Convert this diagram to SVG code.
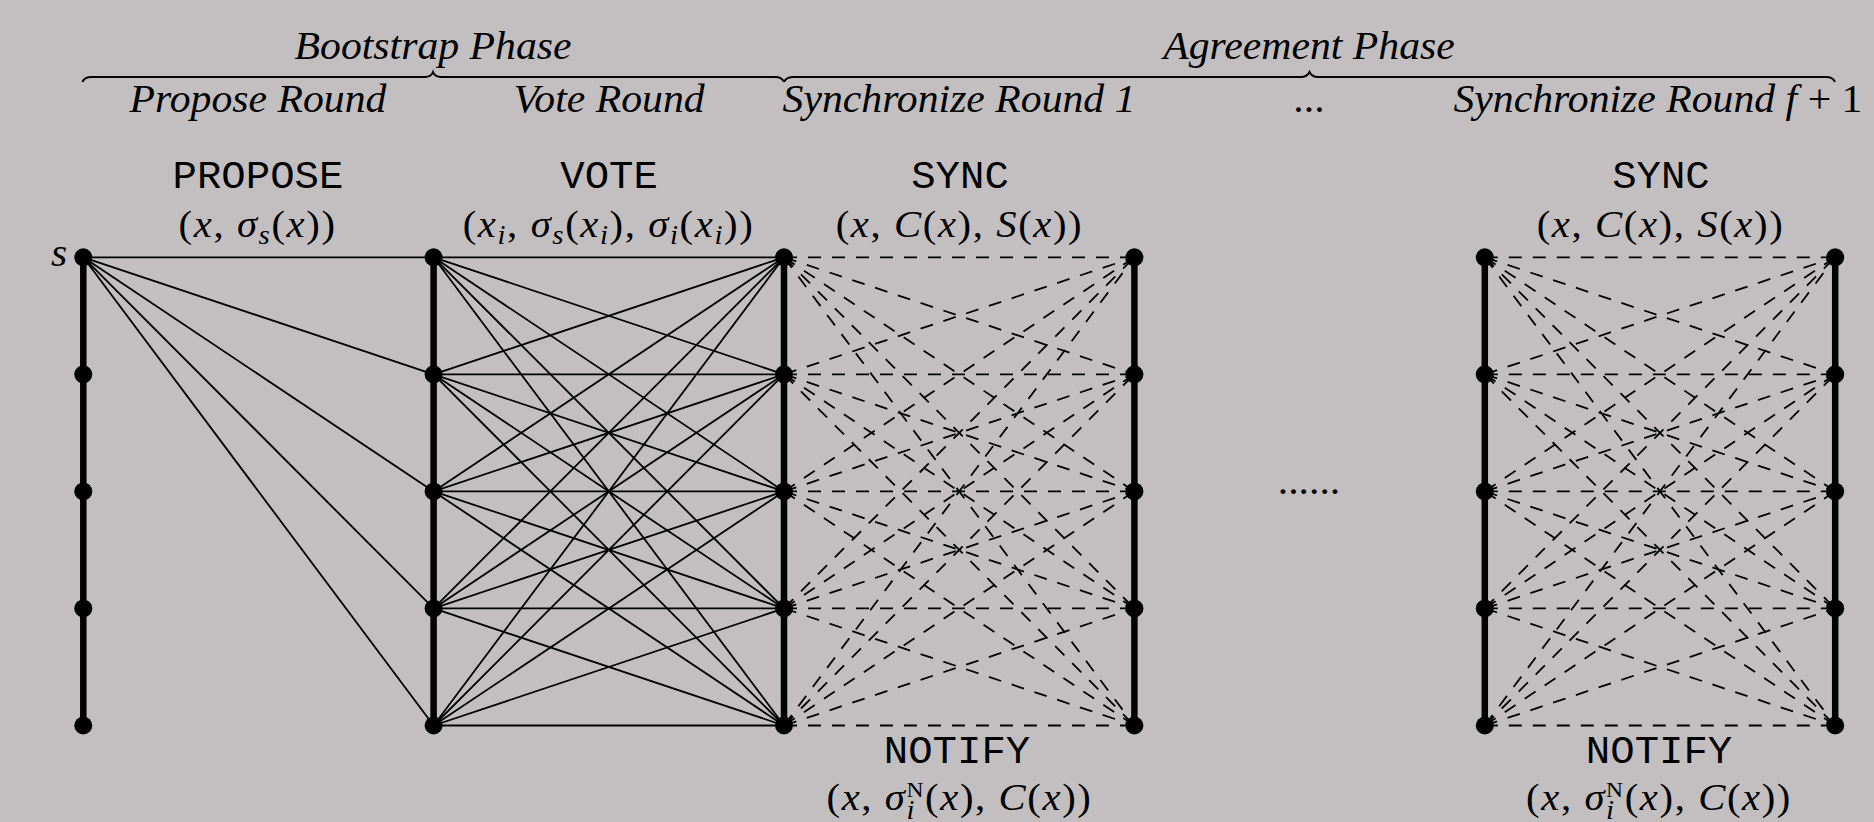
<svg xmlns="http://www.w3.org/2000/svg" width="1874" height="822" viewBox="0 0 1874 822">
<style>
.bg{fill:#c3bfc0}
.sol{stroke:#000;stroke-width:1.8;fill:none}
.dsh{stroke:#000;stroke-width:1.8;fill:none;stroke-dasharray:13 11}
.bar{stroke:#000;stroke-width:6.5}
.dot{fill:#000}
.brace{stroke:#000;stroke-width:2;fill:none}
.t{font-family:"Liberation Serif",serif;font-style:italic;font-size:39px;fill:#000}
.mono{font-family:"Liberation Mono",monospace;font-size:38px;fill:#000}
.m{font-family:"Liberation Serif",serif;font-size:38px;fill:#000;letter-spacing:1.5px}
.i{font-style:italic}
.sb{font-size:27px;font-style:italic}
</style>
<rect class="bg" x="0" y="0" width="1874" height="822"/>
<g id="braces">
<path class="brace" d="M82.5 82 Q84 77 92 77 L425 77 Q431 77 433 72 Q435 77 441 77 L775 77 Q782 77 784 82"/>
<path class="brace" d="M784 82 Q786 77 794 77 L1301 77 Q1307 77 1309.5 72 Q1312 77 1318 77 L1826 77 Q1833 77 1835 82"/>
</g>
<g id="connectors">
<g id="propose-edges">
<line class="sol" x1="83.3" y1="257.3" x2="433.6" y2="257.3"/>
<line class="sol" x1="83.3" y1="257.3" x2="433.6" y2="374.3"/>
<line class="sol" x1="83.3" y1="257.3" x2="433.6" y2="491.4"/>
<line class="sol" x1="83.3" y1="257.3" x2="433.6" y2="608.4"/>
<line class="sol" x1="83.3" y1="257.3" x2="433.6" y2="725.5"/>
</g>
<g id="vote-edges">
<line class="sol" x1="433.6" y1="257.3" x2="784" y2="257.3"/>
<line class="sol" x1="433.6" y1="257.3" x2="784" y2="374.3"/>
<line class="sol" x1="433.6" y1="257.3" x2="784" y2="491.4"/>
<line class="sol" x1="433.6" y1="257.3" x2="784" y2="608.4"/>
<line class="sol" x1="433.6" y1="257.3" x2="784" y2="725.5"/>
<line class="sol" x1="433.6" y1="374.3" x2="784" y2="257.3"/>
<line class="sol" x1="433.6" y1="374.3" x2="784" y2="374.3"/>
<line class="sol" x1="433.6" y1="374.3" x2="784" y2="491.4"/>
<line class="sol" x1="433.6" y1="374.3" x2="784" y2="608.4"/>
<line class="sol" x1="433.6" y1="374.3" x2="784" y2="725.5"/>
<line class="sol" x1="433.6" y1="491.4" x2="784" y2="257.3"/>
<line class="sol" x1="433.6" y1="491.4" x2="784" y2="374.3"/>
<line class="sol" x1="433.6" y1="491.4" x2="784" y2="491.4"/>
<line class="sol" x1="433.6" y1="491.4" x2="784" y2="608.4"/>
<line class="sol" x1="433.6" y1="491.4" x2="784" y2="725.5"/>
<line class="sol" x1="433.6" y1="608.4" x2="784" y2="257.3"/>
<line class="sol" x1="433.6" y1="608.4" x2="784" y2="374.3"/>
<line class="sol" x1="433.6" y1="608.4" x2="784" y2="491.4"/>
<line class="sol" x1="433.6" y1="608.4" x2="784" y2="608.4"/>
<line class="sol" x1="433.6" y1="608.4" x2="784" y2="725.5"/>
<line class="sol" x1="433.6" y1="725.5" x2="784" y2="257.3"/>
<line class="sol" x1="433.6" y1="725.5" x2="784" y2="374.3"/>
<line class="sol" x1="433.6" y1="725.5" x2="784" y2="491.4"/>
<line class="sol" x1="433.6" y1="725.5" x2="784" y2="608.4"/>
<line class="sol" x1="433.6" y1="725.5" x2="784" y2="725.5"/>
</g>
<g id="sync1-edges">
<line class="dsh" x1="784" y1="257.3" x2="1134.4" y2="257.3"/>
<line class="dsh" x1="784" y1="257.3" x2="1134.4" y2="374.3"/>
<line class="dsh" x1="784" y1="257.3" x2="1134.4" y2="491.4"/>
<line class="dsh" x1="784" y1="257.3" x2="1134.4" y2="608.4"/>
<line class="dsh" x1="784" y1="257.3" x2="1134.4" y2="725.5"/>
<line class="dsh" x1="784" y1="374.3" x2="1134.4" y2="257.3"/>
<line class="dsh" x1="784" y1="374.3" x2="1134.4" y2="374.3"/>
<line class="dsh" x1="784" y1="374.3" x2="1134.4" y2="491.4"/>
<line class="dsh" x1="784" y1="374.3" x2="1134.4" y2="608.4"/>
<line class="dsh" x1="784" y1="374.3" x2="1134.4" y2="725.5"/>
<line class="dsh" x1="784" y1="491.4" x2="1134.4" y2="257.3"/>
<line class="dsh" x1="784" y1="491.4" x2="1134.4" y2="374.3"/>
<line class="dsh" x1="784" y1="491.4" x2="1134.4" y2="491.4"/>
<line class="dsh" x1="784" y1="491.4" x2="1134.4" y2="608.4"/>
<line class="dsh" x1="784" y1="491.4" x2="1134.4" y2="725.5"/>
<line class="dsh" x1="784" y1="608.4" x2="1134.4" y2="257.3"/>
<line class="dsh" x1="784" y1="608.4" x2="1134.4" y2="374.3"/>
<line class="dsh" x1="784" y1="608.4" x2="1134.4" y2="491.4"/>
<line class="dsh" x1="784" y1="608.4" x2="1134.4" y2="608.4"/>
<line class="dsh" x1="784" y1="608.4" x2="1134.4" y2="725.5"/>
<line class="dsh" x1="784" y1="725.5" x2="1134.4" y2="257.3"/>
<line class="dsh" x1="784" y1="725.5" x2="1134.4" y2="374.3"/>
<line class="dsh" x1="784" y1="725.5" x2="1134.4" y2="491.4"/>
<line class="dsh" x1="784" y1="725.5" x2="1134.4" y2="608.4"/>
<line class="dsh" x1="784" y1="725.5" x2="1134.4" y2="725.5"/>
</g>
<g id="syncf-edges">
<line class="dsh" x1="1484.8" y1="257.3" x2="1835.2" y2="257.3"/>
<line class="dsh" x1="1484.8" y1="257.3" x2="1835.2" y2="374.3"/>
<line class="dsh" x1="1484.8" y1="257.3" x2="1835.2" y2="491.4"/>
<line class="dsh" x1="1484.8" y1="257.3" x2="1835.2" y2="608.4"/>
<line class="dsh" x1="1484.8" y1="257.3" x2="1835.2" y2="725.5"/>
<line class="dsh" x1="1484.8" y1="374.3" x2="1835.2" y2="257.3"/>
<line class="dsh" x1="1484.8" y1="374.3" x2="1835.2" y2="374.3"/>
<line class="dsh" x1="1484.8" y1="374.3" x2="1835.2" y2="491.4"/>
<line class="dsh" x1="1484.8" y1="374.3" x2="1835.2" y2="608.4"/>
<line class="dsh" x1="1484.8" y1="374.3" x2="1835.2" y2="725.5"/>
<line class="dsh" x1="1484.8" y1="491.4" x2="1835.2" y2="257.3"/>
<line class="dsh" x1="1484.8" y1="491.4" x2="1835.2" y2="374.3"/>
<line class="dsh" x1="1484.8" y1="491.4" x2="1835.2" y2="491.4"/>
<line class="dsh" x1="1484.8" y1="491.4" x2="1835.2" y2="608.4"/>
<line class="dsh" x1="1484.8" y1="491.4" x2="1835.2" y2="725.5"/>
<line class="dsh" x1="1484.8" y1="608.4" x2="1835.2" y2="257.3"/>
<line class="dsh" x1="1484.8" y1="608.4" x2="1835.2" y2="374.3"/>
<line class="dsh" x1="1484.8" y1="608.4" x2="1835.2" y2="491.4"/>
<line class="dsh" x1="1484.8" y1="608.4" x2="1835.2" y2="608.4"/>
<line class="dsh" x1="1484.8" y1="608.4" x2="1835.2" y2="725.5"/>
<line class="dsh" x1="1484.8" y1="725.5" x2="1835.2" y2="257.3"/>
<line class="dsh" x1="1484.8" y1="725.5" x2="1835.2" y2="374.3"/>
<line class="dsh" x1="1484.8" y1="725.5" x2="1835.2" y2="491.4"/>
<line class="dsh" x1="1484.8" y1="725.5" x2="1835.2" y2="608.4"/>
<line class="dsh" x1="1484.8" y1="725.5" x2="1835.2" y2="725.5"/>
</g>
</g>
<g id="col-1">
<line class="bar" x1="83.3" y1="257.3" x2="83.3" y2="725.5"/>
<circle class="dot" cx="83.3" cy="257.3" r="9"/><circle class="dot" cx="83.3" cy="374.3" r="9"/><circle class="dot" cx="83.3" cy="491.4" r="9"/><circle class="dot" cx="83.3" cy="608.4" r="9"/><circle class="dot" cx="83.3" cy="725.5" r="9"/>
</g>
<g id="col-2">
<line class="bar" x1="433.6" y1="257.3" x2="433.6" y2="725.5"/>
<circle class="dot" cx="433.6" cy="257.3" r="9"/><circle class="dot" cx="433.6" cy="374.3" r="9"/><circle class="dot" cx="433.6" cy="491.4" r="9"/><circle class="dot" cx="433.6" cy="608.4" r="9"/><circle class="dot" cx="433.6" cy="725.5" r="9"/>
</g>
<g id="col-3">
<line class="bar" x1="784" y1="257.3" x2="784" y2="725.5"/>
<circle class="dot" cx="784" cy="257.3" r="9"/><circle class="dot" cx="784" cy="374.3" r="9"/><circle class="dot" cx="784" cy="491.4" r="9"/><circle class="dot" cx="784" cy="608.4" r="9"/><circle class="dot" cx="784" cy="725.5" r="9"/>
</g>
<g id="col-4">
<line class="bar" x1="1134.4" y1="257.3" x2="1134.4" y2="725.5"/>
<circle class="dot" cx="1134.4" cy="257.3" r="9"/><circle class="dot" cx="1134.4" cy="374.3" r="9"/><circle class="dot" cx="1134.4" cy="491.4" r="9"/><circle class="dot" cx="1134.4" cy="608.4" r="9"/><circle class="dot" cx="1134.4" cy="725.5" r="9"/>
</g>
<g id="col-5">
<line class="bar" x1="1484.8" y1="257.3" x2="1484.8" y2="725.5"/>
<circle class="dot" cx="1484.8" cy="257.3" r="9"/><circle class="dot" cx="1484.8" cy="374.3" r="9"/><circle class="dot" cx="1484.8" cy="491.4" r="9"/><circle class="dot" cx="1484.8" cy="608.4" r="9"/><circle class="dot" cx="1484.8" cy="725.5" r="9"/>
</g>
<g id="col-6">
<line class="bar" x1="1835.2" y1="257.3" x2="1835.2" y2="725.5"/>
<circle class="dot" cx="1835.2" cy="257.3" r="9"/><circle class="dot" cx="1835.2" cy="374.3" r="9"/><circle class="dot" cx="1835.2" cy="491.4" r="9"/><circle class="dot" cx="1835.2" cy="608.4" r="9"/><circle class="dot" cx="1835.2" cy="725.5" r="9"/>
</g>
<g id="labels" transform="scale(1.07 1)">
<text class="t" x="404.7" y="59" text-anchor="middle">Bootstrap Phase</text>
<text class="t" x="1223.4" y="59" text-anchor="middle">Agreement Phase</text>
<text class="t" x="241.1" y="112" text-anchor="middle">Propose Round</text>
<text class="t" x="569.2" y="112" text-anchor="middle">Vote Round</text>
<text class="t" x="896.3" y="112" text-anchor="middle">Synchronize Round 1</text>
<text class="t" x="1224.3" y="112" text-anchor="middle">...</text>
<text class="t" x="1549.5" y="112" text-anchor="middle">Synchronize Round f<tspan font-style="normal"> + 1</tspan></text>
<text class="mono" x="241.1" y="188.5" text-anchor="middle">PROPOSE</text>
<text class="mono" x="569.2" y="188.5" text-anchor="middle">VOTE</text>
<text class="mono" x="897.2" y="188.5" text-anchor="middle">SYNC</text>
<text class="mono" x="1552.3" y="188.5" text-anchor="middle">SYNC</text>
<text class="m" x="240.7" y="237" text-anchor="middle" letter-spacing="2">(<tspan class="i">x</tspan>, <tspan class="i">σ</tspan><tspan class="sb" dy="7">s</tspan><tspan dy="-7">(</tspan><tspan class="i">x</tspan>))</text>
<text class="m" x="568.7" y="237" text-anchor="middle" letter-spacing="2.3">(<tspan class="i">x</tspan><tspan class="sb" dy="7">i</tspan><tspan dy="-7">, </tspan><tspan class="i">σ</tspan><tspan class="sb" dy="7">s</tspan><tspan dy="-7">(</tspan><tspan class="i">x</tspan><tspan class="sb" dy="7">i</tspan><tspan dy="-7">), </tspan><tspan class="i">σ</tspan><tspan class="sb" dy="7">i</tspan><tspan dy="-7">(</tspan><tspan class="i">x</tspan><tspan class="sb" dy="7">i</tspan><tspan dy="-7">))</tspan></text>
<text class="m" x="896.7" y="237" text-anchor="middle">(<tspan class="i">x</tspan>, <tspan class="i">C</tspan>(<tspan class="i">x</tspan>), <tspan class="i">S</tspan>(<tspan class="i">x</tspan>))</text>
<text class="m" x="1551.9" y="237" text-anchor="middle">(<tspan class="i">x</tspan>, <tspan class="i">C</tspan>(<tspan class="i">x</tspan>), <tspan class="i">S</tspan>(<tspan class="i">x</tspan>))</text>
<text class="mono" x="894.4" y="763.5" text-anchor="middle">NOTIFY</text>
<text class="mono" x="1550.5" y="763.5" text-anchor="middle">NOTIFY</text>
<text class="m" x="896.7" y="810" text-anchor="middle">(<tspan class="i">x</tspan>, <tspan class="i">σ</tspan><tspan class="sb" dy="9">i</tspan><tspan font-size="22" dx="-9" dy="-22">N</tspan><tspan dy="13">(</tspan><tspan class="i">x</tspan>), <tspan class="i">C</tspan>(<tspan class="i">x</tspan>))</text>
<text class="m" x="1550.5" y="810" text-anchor="middle">(<tspan class="i">x</tspan>, <tspan class="i">σ</tspan><tspan class="sb" dy="9">i</tspan><tspan font-size="22" dx="-9" dy="-22">N</tspan><tspan dy="13">(</tspan><tspan class="i">x</tspan>), <tspan class="i">C</tspan>(<tspan class="i">x</tspan>))</text>
<text class="t" x="47.7" y="266" font-size="34">s</text>
<text class="t" x="1224.3" y="494" text-anchor="middle" font-style="normal">......</text>
</g>
</svg>
